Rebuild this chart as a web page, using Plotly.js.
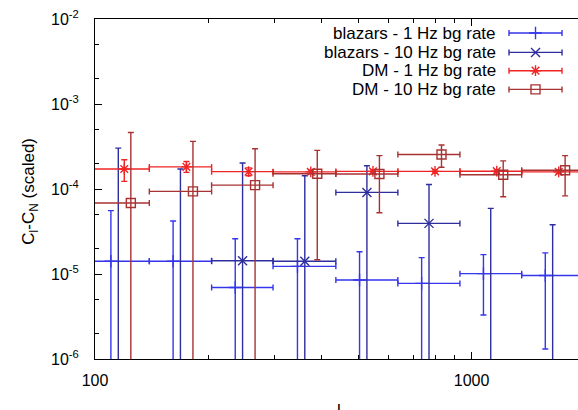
<!DOCTYPE html>
<html><head><meta charset="utf-8">
<script src="https://cdn.plot.ly/plotly-3.0.1.min.js"></script>
<style>html,body{margin:0;padding:0;overflow:hidden;background:#fff}#chart{width:600px;height:410px}</style>
</head><body><div id="chart"></div><script>
// multipole bins (l)
const binLow  = [95.5, 139.4, 204, 297, 436, 637, 931, 1358];
const binHigh = [139.4, 204, 297, 436, 637, 931, 1358, 1987];

// blazars - 1 Hz bg rate
const blz1x  = [110.2, 161.2, 235.7, 344.8, 504, 736.7, 1075, 1569];
const blz1y  = [1.41e-5, 1.41e-5, 6.95e-6, 1.23e-5, 8.5e-6, 7.75e-6, 1.01e-5, 9.6e-6];
const blz1lo = [1e-7, 1e-7, 1e-7, 1e-7, 1e-7, 1e-7, 3.3e-6, 1.31e-6];
const blz1hi = [5.56e-5, 4.2e-5, 2.6e-5, 2.6e-5, 1.83e-5, 1.56e-5, 1.69e-5, 1.77e-5];

// blazars - 10 Hz bg rate (values below 1e-6 fall off the axis)
const blz10x  = [115.3, 168.6, 246.5, 360.6, 527.2, 770.6, 1124, 1641];
const blz10y  = [5e-7, 5e-7, 1.43e-5, 1.41e-5, 9.12e-5, 3.94e-5, 5e-7, 5e-7];
const blz10lo = [1e-7, 1e-7, 1e-7, 1e-7, 1e-7, 1e-7, 1e-7, 1e-7];
const blz10hi = [3.03e-4, 1.72e-4, 2.02e-4, 1.43e-4, 1.88e-4, 1.13e-4, 5.91e-5, 3.8e-5];

// DM - 1 Hz bg rate
const dm1x  = [119.6, 174.9, 255.7, 374.1, 547, 799.5, 1166, 1703];
const dm1y  = [1.72e-4, 1.82e-4, 1.6e-4, 1.59e-4, 1.61e-4, 1.61e-4, 1.62e-4, 1.59e-4];
const dm1lo = [1.23e-4, 1.57e-4, 1.43e-4, 1.52e-4, 1.54e-4, 1.54e-4, 1.55e-4, 1.52e-4];
const dm1hi = [2.21e-4, 2.11e-4, 1.77e-4, 1.67e-4, 1.68e-4, 1.68e-4, 1.69e-4, 1.66e-4];

// DM - 10 Hz bg rate
const dm10x  = [124.5, 182, 266.1, 389.2, 569.1, 831.8, 1213, 1771];
const dm10y  = [6.84e-5, 9.37e-5, 1.11e-4, 1.51e-4, 1.5e-4, 2.55e-4, 1.47e-4, 1.66e-4];
const dm10lo = [1e-7, 1e-7, 1e-7, 1.47e-5, 5.26e-5, 1.8e-4, 8.11e-5, 8.3e-5];
const dm10hi = [4.63e-4, 3.63e-4, 2.98e-4, 2.85e-4, 2.47e-4, 3.3e-4, 2.14e-4, 2.47e-4];

const seriesNames = ['blazars - 1 Hz bg rate', 'blazars - 10 Hz bg rate', 'DM - 1 Hz bg rate', 'DM - 10 Hz bg rate'];
const xTickVals = [100, 1000];
const xTickText = ['100', '1000'];
const yTickVals = [1e-6, 1e-5, 1e-4, 1e-3, 1e-2];
const yTickText = ['10<sup>-6</sup>', '10<sup>-5</sup>', '10<sup>-4</sup>', '10<sup>-3</sup>', '10<sup>-2</sup>'];

const styles = [
  {color: '#3535ec', symbol: 'cross-thin-open', size: 9},
  {color: '#2e2e9e', symbol: 'x-thin-open', size: 9},
  {color: '#f02424', symbol: 'asterisk-open', size: 9},
  {color: '#a83232', symbol: 'square-open', size: 9}
];
const sets = [
  [blz1x, blz1y, blz1lo, blz1hi],
  [blz10x, blz10y, blz10lo, blz10hi],
  [dm1x, dm1y, dm1lo, dm1hi],
  [dm10x, dm10y, dm10lo, dm10hi]
];

const traces = [];
sets.forEach(([xs, ys, lo, hi], i) => {
  const st = styles[i];
  traces.push({
    type: 'scatter', mode: 'markers', name: seriesNames[i], showlegend: false,
    x: xs, y: ys,
    marker: {symbol: st.symbol, size: st.size, color: st.color, line: {color: st.color, width: 1.4}},
    error_x: {type: 'data', symmetric: false,
      array: xs.map((v, k) => binHigh[k] - v), arrayminus: xs.map((v, k) => v - binLow[k]),
      color: st.color, thickness: 1.4, width: 3},
    error_y: {type: 'data', symmetric: false,
      array: ys.map((v, k) => hi[k] - v), arrayminus: ys.map((v, k) => v - lo[k]),
      color: st.color, thickness: 1.4, width: 3},
    hoverinfo: 'skip'
  });
});

// legend keys (gnuplot style: text, then sample to its right)
const legY = [0.9588, 0.9018, 0.848, 0.793];
const annotations = [];
seriesNames.forEach((nm, i) => {
  const st = styles[i];
  traces.push({
    type: 'scatter', mode: 'markers', xaxis: 'x2', yaxis: 'y2', showlegend: false,
    x: [0.899], y: [legY[i]],
    marker: {symbol: st.symbol, size: st.size, color: st.color, line: {color: st.color, width: 1.4}},
    error_x: {type: 'data', array: [0.0541], color: st.color, thickness: 1.4, width: 3},
    hoverinfo: 'skip', cliponaxis: false
  });
  annotations.push({xref: 'paper', yref: 'paper', x: 0.8204, y: legY[i], xanchor: 'right', yanchor: 'middle',
    text: nm, showarrow: false, borderpad: 0, font: {size: 17, color: '#000'}});
});
annotations.push({xref: 'paper', yref: 'paper', x: -0.1327, y: 0.495, xanchor: 'center', yanchor: 'middle',
  textangle: -90, text: 'C<sub>l</sub>-C<sub>N</sub> (scaled)', showarrow: false, font: {size: 17, color: '#000'}});
annotations.push({xref: 'paper', yref: 'paper', x: 0.498, y: -0.12, xanchor: 'center', yanchor: 'top',
  text: 'l', showarrow: false, borderpad: 0, font: {size: 17, color: '#000'}});

const layout = {
  width: 600, height: 410,
  margin: {l: 95, r: 15, t: 19, b: 51},
  paper_bgcolor: '#fff', plot_bgcolor: '#fff',
  font: {family: 'Liberation Sans, Arial, sans-serif', color: '#000'},
  showlegend: false,
  xaxis: {type: 'log', range: [2, Math.log10(2000)], showgrid: false, zeroline: false,
    showline: true, linecolor: '#000', linewidth: 1, mirror: 'allticks',
    ticks: 'inside', ticklen: 7, tickwidth: 1, tickcolor: '#000',
    tickmode: 'array', tickvals: xTickVals, ticktext: xTickText,
    tickfont: {size: 16, color: '#000'}, ticklabelstandoff: 7,
    minor: {tickmode: 'array', tickvals: [200, 300, 400, 500, 600, 700, 800, 900, 2000],
      ticks: 'inside', ticklen: 4, tickwidth: 1, tickcolor: '#000', showgrid: false}},
  yaxis: {type: 'log', range: [-6, -2], showgrid: false, zeroline: false,
    showline: true, linecolor: '#000', linewidth: 1, mirror: 'allticks',
    ticks: 'inside', ticklen: 7, tickwidth: 1, tickcolor: '#000',
    tickmode: 'array', tickvals: yTickVals, ticktext: yTickText,
    tickfont: {size: 16, color: '#000'}, ticklabelstandoff: 12,
    minor: {tickmode: 'array', tickvals: [2e-6, 5e-6, 2e-5, 5e-5, 2e-4, 5e-4, 2e-3, 5e-3],
      ticks: 'inside', ticklen: 4, tickwidth: 1, tickcolor: '#000', showgrid: false}},
  xaxis2: {overlaying: 'x', range: [0, 1], visible: false, fixedrange: true},
  yaxis2: {overlaying: 'y', range: [0, 1], visible: false, fixedrange: true},
  annotations: annotations
};

Plotly.newPlot('chart', traces, layout, {staticPlot: true, displayModeBar: false});
</script></body></html>
